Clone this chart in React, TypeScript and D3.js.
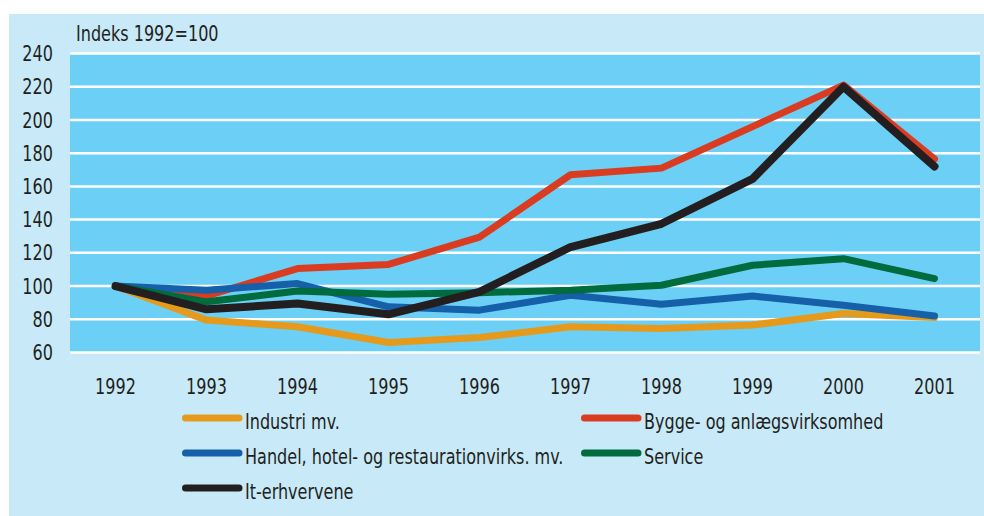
import React from "react";
import * as d3 from "d3";

const years = ["1992", "1993", "1994", "1995", "1996", "1997", "1998", "1999", "2000", "2001"];
const yTicks = [60, 80, 100, 120, 140, 160, 180, 200, 220, 240];

const industri = [100, 79.5, 75.5, 66, 69, 75.5, 74.5, 76.5, 83.5, 81];
const bygge = [100, 94, 110.5, 113, 129.5, 167, 171, 196, 221, 176.5];
const handel = [100, 97.5, 101.5, 87.5, 85.5, 94.5, 89, 94, 88.5, 82];
const service = [100, 90.5, 97, 95, 96, 97.5, 100.5, 112.5, 116.5, 104.5];
const it = [100, 86, 89.5, 83, 96.5, 123.5, 137.5, 164.5, 220, 172];

const seriesNames = [
  "Industri mv.",
  "Bygge- og anlægsvirksomhed",
  "Handel, hotel- og restaurationvirks. mv.",
  "Service",
  "It-erhvervene",
];
const seriesValues = [industri, bygge, handel, service, it];
const seriesColors = ["#E59A1C", "#DA3C22", "#1560A8", "#006B3C", "#231F20"];
const seriesWidths = [7, 7, 7, 7, 8];

const W = 984;
const H = 516;
const FONT = "'DejaVu Sans Condensed', 'Liberation Sans Narrow', sans-serif";
const TEXT = "#231F20";
const SX = 0.85;

type TProps = {
  x: number;
  y: number;
  anchor?: "start" | "middle" | "end";
  dy?: string;
  children: React.ReactNode;
};

function T({ x, y, anchor = "start", dy, children }: TProps) {
  return (
    <text
      transform={`translate(${x},${y}) scale(${SX},1)`}
      textAnchor={anchor}
      dy={dy}
      fontSize={21}
      fill={TEXT}
    >
      {children}
    </text>
  );
}

export default function App() {
  const x = d3.scaleBand<string>().domain(years).range([70, 980]);
  const xc = (yr: string) => (x(yr) as number) + x.bandwidth() / 2;
  const y = d3.scaleLinear().domain([60, 240]).range([352.5, 53.5]);

  const line = (vals: number[]) =>
    d3
      .line<number>()
      .x((_, i) => xc(years[i]))
      .y((v) => y(v))(vals) as string;

  const legendPos = [
    { x: 182, y: 418 },
    { x: 581, y: 418 },
    { x: 182, y: 453 },
    { x: 581, y: 453 },
    { x: 182, y: 488 },
  ];

  return (
    <svg
      width={W}
      height={H}
      style={{ position: "absolute", left: 0, top: 0 }}
      fontFamily={FONT}
    >
      <rect x={0} y={0} width={W} height={H} fill="#ffffff" />
      <rect x={9} y={14} width={W - 9} height={H - 14} fill="#C8EAF8" />
      <rect x={70} y={y(240)} width={910} height={y(60) - y(240)} fill="#6CCFF5" />
      {yTicks.map((t) => (
        <line key={t} x1={70} x2={980} y1={y(t)} y2={y(t)} stroke="#ffffff" strokeWidth={2.5} />
      ))}
      {yTicks.map((t) => (
        <T key={"l" + t} x={53} y={y(t)} dy="0.36em" anchor="end">
          {t}
        </T>
      ))}
      <T x={76} y={40.5}>
        Indeks 1992=100
      </T>
      {years.map((yr) => (
        <T key={yr} x={xc(yr)} y={394} anchor="middle">
          {yr}
        </T>
      ))}
      {seriesValues.map((vals, i) => (
        <path
          key={seriesNames[i]}
          d={line(vals)}
          fill="none"
          stroke={seriesColors[i]}
          strokeWidth={seriesWidths[i]}
          strokeLinejoin="round"
          strokeLinecap="round"
        />
      ))}
      {seriesNames.map((n, i) => (
        <g key={"lg" + n}>
          <line
            x1={legendPos[i].x + 3.5}
            x2={legendPos[i].x + 57}
            y1={legendPos[i].y}
            y2={legendPos[i].y}
            stroke={seriesColors[i]}
            strokeWidth={7}
            strokeLinecap="round"
          />
          <T x={legendPos[i].x + 63} y={legendPos[i].y + 11}>
            {n}
          </T>
        </g>
      ))}
    </svg>
  );
}
